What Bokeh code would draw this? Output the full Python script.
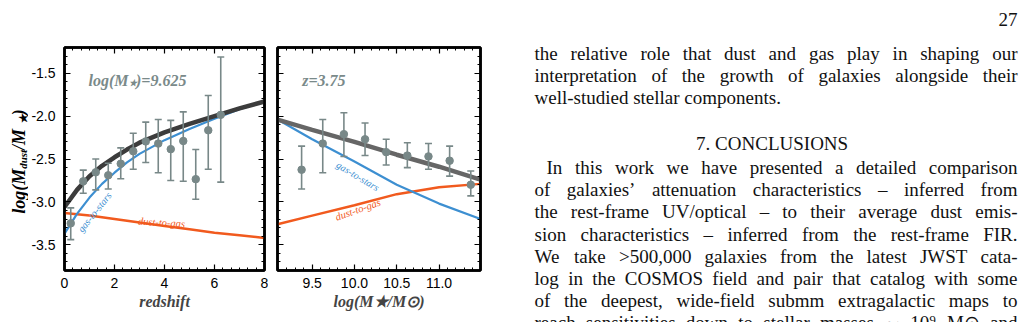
import math

from bokeh.core.properties import value
from bokeh.embed import file_html
from bokeh.layouts import row
from bokeh.models import (ColumnDataSource, CustomJSTickFormatter, Label, LinearAxis,
                          PrintfTickFormatter, Range1d, SingleIntervalTicker, TeeHead, Whisker)
from bokeh.plotting import figure
from bokeh.resources import INLINE

# ---------------------------------------------------------------------------
# Data: log(M_dust / M_star) against redshift at log(M_star) = 9.625
z_bins = [0.25, 0.75, 1.25, 1.75, 2.25, 2.75, 3.25, 3.75, 4.25, 4.75, 5.25, 5.75, 6.25]
z_ratio = [-3.25, -2.76, -2.655, -2.69, -2.555, -2.41, -2.295, -2.32, -2.385, -2.29, -2.735, -2.165, -1.985]
z_ratio_hi = [-3.07, -2.63, -2.50, -2.55, -2.37, -2.20, -2.07, -2.04, -2.05, -1.95, -2.39, -1.76, -1.31]
z_ratio_lo = [-3.44, -2.90, -2.86, -2.85, -2.73, -2.62, -2.54, -2.66, -2.75, -2.76, -2.97, -2.62, -2.77]

z_model = [0, 0.5, 1, 1.5, 2, 2.5, 3, 4, 5, 6, 7, 8]
z_total = [-3.06, -2.86, -2.70, -2.58, -2.48, -2.39, -2.31, -2.19, -2.09, -2.00, -1.91, -1.83]
z_gas_to_stars = [-3.37, -3.14, -2.95, -2.79, -2.66, -2.54, -2.44, -2.28, -2.15, -2.03, -1.92, -1.83]
z_dust_to_gas = [-3.13, -3.145, -3.16, -3.18, -3.20, -3.22, -3.24, -3.28, -3.32, -3.36, -3.39, -3.42]

# Data: log(M_dust / M_star) against stellar mass at z = 3.75
m_bins = [9.375, 9.625, 9.875, 10.125, 10.375, 10.625, 10.875, 11.125, 11.375]
m_ratio = [-2.625, -2.32, -2.21, -2.27, -2.42, -2.46, -2.47, -2.52, -2.80]
m_ratio_hi = [-2.35, -2.04, -1.96, -2.08, -2.27, -2.31, -2.32, -2.35, -2.64]
m_ratio_lo = [-2.85, -2.66, -2.47, -2.46, -2.57, -2.60, -2.62, -2.70, -2.93]

m_model = [9.09, 9.5, 10.0, 10.5, 11.0, 11.49]
m_total = [-2.04, -2.16, -2.30, -2.45, -2.59, -2.74]
m_gas_to_stars = [-2.04, -2.27, -2.53, -2.80, -3.02, -3.20]
m_dust_to_gas = [-3.26, -3.16, -3.04, -2.91, -2.83, -2.79]

z_range = (0, 8)
m_range = (9.09, 11.49)
ratio_range = (-3.8, -1.2)

right_label = "z=3.75"

# Body text of the page column
page_number = "27"
para1 = [
    "the relative role that dust and gas play in shaping our",
    "interpretation of the growth of galaxies alongside their",
    "well-studied stellar components.",
]
heading = "7.  CONCLUSIONS"
para2 = [
    "In this work we have presented a detailed comparison",
    "of galaxies’ attenuation characteristics – inferred from",
    "the rest-frame UV/optical – to their average dust emis-",
    "sion characteristics – inferred from the rest-frame FIR.",
    "We take >500,000 galaxies from the latest JWST cata-",
    "log in the COSMOS field and pair that catalog with some",
    "of the deepest, wide-field submm extragalactic maps to",
    "reach sensitivities down to stellar masses ∼ 10⁹ M⊙ and",
]

# ---------------------------------------------------------------------------
POINT = "#788888"
DARK = "#3c3c3c"
MID = "#666666"
BLUE = "#3d8fd1"
ORANGE = "#f15a1e"
LABEL_GRAY = "#7a8a8a"
SERIF = "Liberation Serif"
SANS = "Liberation Sans"

# Advance widths (1/1000 em) of Liberation Serif, which shares Times' metrics
_upper = dict(zip("ABCDEFGHIJKLMNOPQRSTUVWXYZ",
                  [722, 667, 667, 722, 611, 556, 722, 722, 333, 389, 722, 611, 889,
                   722, 722, 556, 722, 667, 556, 611, 722, 722, 944, 722, 722, 611]))
_lower = dict(zip("abcdefghijklmnopqrstuvwxyz",
                  [444, 500, 444, 500, 444, 333, 500, 500, 278, 278, 500, 278, 778,
                   500, 500, 500, 500, 333, 389, 278, 500, 500, 722, 500, 500, 444]))
REGULAR = {**_upper, **_lower, " ": 250, ",": 250, ".": 250, "-": 333, "/": 278,
           "(": 333, ")": 333, ">": 564, "=": 564, "’": 333, "–": 500, "∼": 838,
           "⁹": 400, "⊙": 838, "★": 838, **{d: 500 for d in "0123456789"}}
BOLD_ITALIC = {**REGULAR, "=": 570, "d": 500, "u": 556, "h": 556, "r": 389, "z": 389,
               "n": 556, "M": 889}


def measure(text, size, table=REGULAR):
    return sum(table.get(ch, 500) for ch in text) * size / 1000.0


BLANK = CustomJSTickFormatter(code="return ''")


# ---------------------------------------------------------------------------
def style_axis(ax, labels=True):
    ax.axis_line_width = 2.5
    ax.axis_line_color = "black"
    ax.major_tick_in = 6
    ax.major_tick_out = 0
    ax.minor_tick_in = 3
    ax.minor_tick_out = 0
    ax.major_tick_line_width = 1.2
    ax.minor_tick_line_width = 1.0
    ax.major_label_text_font = SANS
    ax.major_label_text_font_size = "14px"
    ax.major_label_text_color = "black"
    if not labels:
        ax.formatter = BLANK
        ax.major_label_standoff = 0


def make_panel(width, border_left, border_right, xr, x_interval, x_minor, x_fmt, y_labels):
    p = figure(width=width, height=322, x_range=Range1d(*xr), y_range=Range1d(*ratio_range),
               output_backend="svg", toolbar_location=None,
               min_border_left=border_left, min_border_right=border_right,
               min_border_top=47, min_border_bottom=52)
    p.grid.visible = False
    p.outline_line_color = "black"
    p.outline_line_width = 2.5
    p.background_fill_color = "white"
    p.border_fill_color = "white"

    xt = SingleIntervalTicker(interval=x_interval, num_minor_ticks=x_minor)
    yt = SingleIntervalTicker(interval=0.5, num_minor_ticks=5)
    bottom = p.xaxis[0]
    left = p.yaxis[0]
    bottom.ticker = xt
    left.ticker = yt
    top = LinearAxis(ticker=xt)
    right = LinearAxis(ticker=yt)
    p.add_layout(top, "above")
    p.add_layout(right, "right")

    style_axis(bottom, True)
    bottom.formatter = PrintfTickFormatter(format=x_fmt)
    bottom.major_label_standoff = 7
    bottom.axis_label_standoff = 2
    bottom.axis_label_text_font = SERIF
    bottom.axis_label_text_font_style = "bold italic"
    bottom.axis_label_text_font_size = "16px"
    style_axis(left, y_labels)
    if y_labels:
        left.formatter = PrintfTickFormatter(format="%.1f")
        left.major_label_standoff = 9
    style_axis(top, False)
    style_axis(right, False)
    return p, bottom


def add_points(p, xs, ys, lo, hi):
    src = ColumnDataSource(dict(x=xs, y=ys, lo=lo, hi=hi))
    p.add_layout(Whisker(source=src, base="x", upper="hi", lower="lo", dimension="height",
                         line_color=POINT, line_width=1.6, level="glyph",
                         upper_head=TeeHead(size=7, line_color=POINT, line_width=1.6),
                         lower_head=TeeHead(size=7, line_color=POINT, line_width=1.6)))
    p.scatter("x", "y", source=src, size=7.5, color=POINT)


def compose(p, x0, y0, parts, x_off, y_off, color="black"):
    """Lay out a run of differently sized pieces (for sub-scripts) one after another."""
    pos = 0.0
    for text, size, drop in parts:
        p.add_layout(Label(x=x0, y=y0, text=text, text_font=SERIF,
                           text_font_style="bold italic", text_font_size=f"{size}px",
                           text_color=color, text_align="left", text_baseline="alphabetic",
                           x_offset=x_off + pos, y_offset=y_off - drop))
        pos += measure(text, size, BOLD_ITALIC)
    return pos


def curve_label(p, x, y, text, color, angle, size=10):
    p.text(x=[x], y=[y], text=[text], angle=angle, text_color=color,
           text_font=value(SERIF), text_font_style="italic", text_font_size=f"{size}px",
           text_align="center", text_baseline="middle")


def blank_sheet(width, x0, x1):
    """A figure without axes whose data coordinates are page pixels."""
    f = figure(width=width, height=322, x_range=Range1d(x0, x1), y_range=Range1d(322, 0),
               output_backend="svg", toolbar_location=None, min_border=0,
               x_axis_type=None, y_axis_type=None)
    f.frame_align = False
    f.grid.visible = False
    f.outline_line_color = None
    f.background_fill_color = "white"
    f.border_fill_color = "white"
    return f


# ---------------------------------------------------------------------------
# Narrow strip carrying the rotated y-axis title
STRIP = 28
ytitle = blank_sheet(STRIP, 0, STRIP)
ylab_parts = [("log(M", 18, 0), ("dust", 11, 4), (" /M", 18, 0), ("★", 11, 4), (")", 18, 0)]
ylab_len = sum(measure(t, s, BOLD_ITALIC) for t, s, _ in ylab_parts)
ypos = 161 + ylab_len / 2
for t, s, drop in ylab_parts:
    ytitle.text(x=[18.5 + drop], y=[ypos], text=[t], angle=math.pi / 2,
                text_font=value(SERIF), text_font_style="bold italic", text_font_size=f"{s}px",
                text_color="black", text_align="left", text_baseline="alphabetic")
    ypos -= measure(t, s, BOLD_ITALIC)

# Left panel: redshift
p1, p1_bottom = make_panel(268 - STRIP, 62 - STRIP, 4, z_range, 2, 6, "%d", True)
p1_bottom.axis_label = "redshift"
p1.line(z_model, z_dust_to_gas, line_color=ORANGE, line_width=2.5)
p1.line(z_model, z_gas_to_stars, line_color=BLUE, line_width=2.2)
p1.line(z_model, z_total, line_color=DARK, line_width=4.5)
add_points(p1, z_bins, z_ratio, z_ratio_lo, z_ratio_hi)
curve_label(p1, 1.2, -3.12, "gas-to-stars", BLUE, 0.9)
curve_label(p1, 3.88, -3.24, "dust-to-gas", ORANGE, -0.06, 10.5)
compose(p1, z_range[0], ratio_range[0],
        [("log(M", 16, 0), ("★", 9, 3), (")=9.625", 16, 0)],
        24, 190.5, color=LABEL_GRAY)

# Right panel: stellar mass
p2, p2_bottom = make_panel(222, 9, 10, m_range, 0.5, 5, "%.1f", False)
p2_bottom.axis_label = "log(M★/M⊙)"
p2.line(m_model, m_dust_to_gas, line_color=ORANGE, line_width=2.5)
p2.line(m_model, m_gas_to_stars, line_color=BLUE, line_width=2.2)
p2.line(m_model, m_total, line_color=MID, line_width=4.5)
add_points(p2, m_bins, m_ratio, m_ratio_lo, m_ratio_hi)
curve_label(p2, 10.04, -2.70, "gas-to-stars", BLUE, -0.54)
curve_label(p2, 10.04, -3.09, "dust-to-gas", ORANGE, 0.34, 10.5)
compose(p2, m_range[0], ratio_range[0], [(right_label, 16, 0)], 24.7, 190.5, color=LABEL_GRAY)

# ---------------------------------------------------------------------------
# Page text column
pt = blank_sheet(540, 490, 1030)

LEFT, RIGHT, INDENT = 534, 1017, 12
LEAD = 22.2
size = 19.0
for ln in para1[:2] + para2:
    ws = ln.split(" ")
    natural = sum(measure(w, 1.0) for w in ws)
    avail = RIGHT - LEFT - 3.5 * (len(ws) - 1) - (INDENT if ln == para2[0] else 0)
    size = min(size, avail / natural)
size = math.floor(size * 10) / 10


def body_text(xs, ys, texts, align="left", baseline="alphabetic"):
    pt.text(x=xs, y=ys, text=texts, text_font=value(SERIF), text_font_size=f"{size}px",
            text_color="#111111", text_align=align, text_baseline=baseline)


def justified(line, x_left, y, baseline="alphabetic"):
    words = line.split(" ")
    widths = [measure(w, size) for w in words]
    gap = (RIGHT - x_left - sum(widths)) / (len(words) - 1)
    xs, x = [], x_left
    for w in widths:
        xs.append(x)
        x += w + gap
    body_text(xs, [y] * len(words), words, baseline=baseline)


body_text([RIGHT], [18.5], [page_number], align="right")
base = 52.5
justified(para1[0], LEFT, base)
justified(para1[1], LEFT, base + LEAD)
body_text([LEFT], [base + 2 * LEAD], [para1[2]])
body_text([774], [143], [heading], align="center")
for i, ln in enumerate(para2):
    y = 167 + LEAD * i
    if y > 322:
        # the page ends mid-line: anchor it by its middle, just inside the sheet's lower edge
        justified(ln, LEFT, 321.5, baseline="middle")
    else:
        justified(ln, LEFT + (INDENT if i == 0 else 0), y)

layout = row(ytitle, p1, p2, pt, spacing=0)
open("out.html", "w").write(file_html(layout, INLINE))
